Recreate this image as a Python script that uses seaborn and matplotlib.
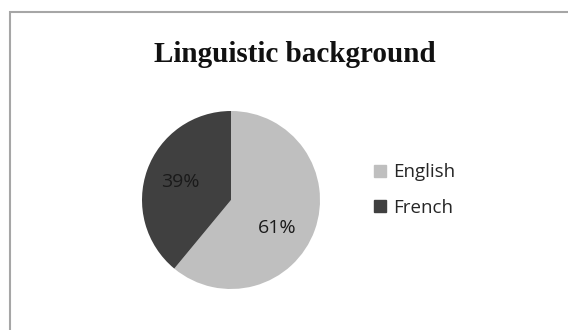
import numpy as np
import matplotlib
matplotlib.use("Agg")
import matplotlib.pyplot as plt
import seaborn as sns
from matplotlib.patches import Rectangle

# data
languages = ["English", "French"]
shares = [61, 39]
colors = ["#bfbfbf", "#404040"]

sns.set_theme(style="white")
plt.rcParams['font.family'] = ['Open Sans', 'DejaVu Sans']

fig = plt.figure(figsize=(5.68, 3.30), dpi=100)
fig.patch.set_facecolor("white")

# chart area border (Excel style)
fig.patches.append(Rectangle((10 / 568, -0.05), 1.0, 1 - 12 / 330 + 0.05,
                             transform=fig.transFigure, fill=False,
                             edgecolor="#a6a6a6", linewidth=1.5))

cx, cy, r = 231, 200, 89
ax = fig.add_axes([(cx - r) / 568, (330 - cy - r) / 330, 2 * r / 568, 2 * r / 330])
wedges, texts, autotexts = ax.pie(shares, colors=colors, startangle=90, counterclock=False,
                                  autopct="%d%%", pctdistance=0.6,
                                  wedgeprops=dict(linewidth=0),
                                  textprops=dict(fontsize=14, color="#1a1a1a"))
# Excel puts the big slice's label a bit lower
ang = np.deg2rad(-31)
autotexts[0].set_position((0.61 * np.cos(ang), 0.61 * np.sin(ang)))
ax.set_xlim(-1, 1)
ax.set_ylim(-1, 1)

fig.text(295 / 568, 1 - 54 / 330, "Linguistic background", ha="center", va="center",
         family="Liberation Serif", fontweight="bold", fontsize=21, color="#111111")

handles = [plt.Line2D([], [], marker="s", linestyle="none", markersize=8,
                      markerfacecolor=c, markeredgecolor=c) for c in colors]
fig.legend(handles, languages, loc="center left", bbox_to_anchor=(372 / 568, 1 - 190 / 330),
           frameon=False, fontsize=13.5, handletextpad=0.25, labelspacing=0.95,
           handlelength=0.9, borderaxespad=0, borderpad=0)

plt.savefig("out.png", dpi=100, facecolor="white")
